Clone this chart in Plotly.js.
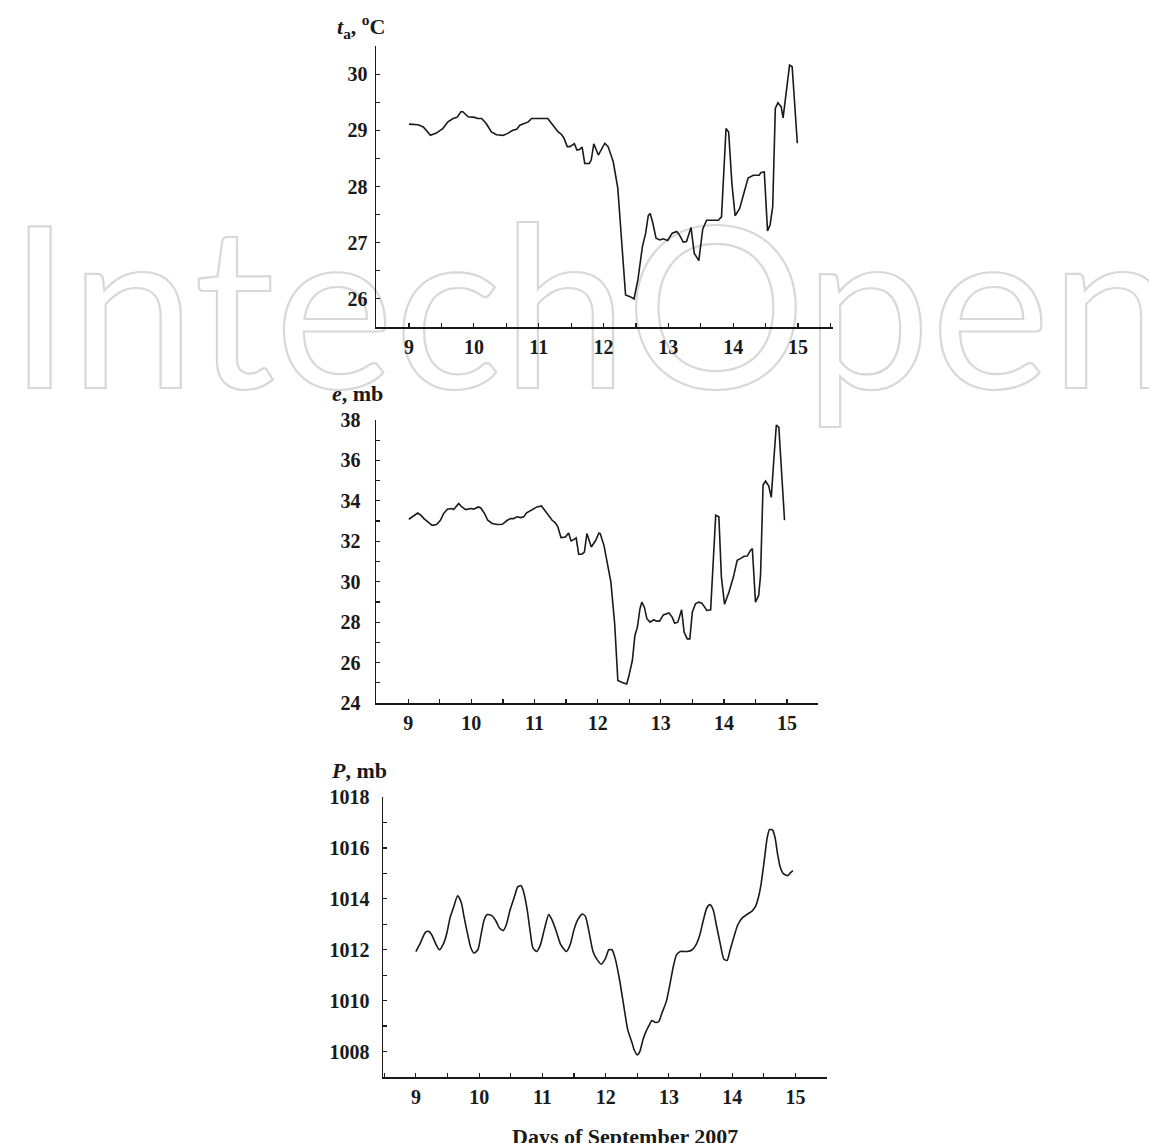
<!DOCTYPE html>
<html>
<head>
<meta charset="utf-8">
<script src="https://cdn.plot.ly/plotly-3.0.1.min.js"></script>
<style>
html,body{margin:0;padding:0;background:#fff;}
#chart{width:1149px;height:1143px;}
</style>
</head>
<body>
<div id="chart"></div>
<script>
// ---- Data ----
const tickDays = [9, 10, 11, 12, 13, 14, 15];

const taDays = [9.0,9.14,9.22,9.33,9.42,9.52,9.6,9.68,9.74,9.8,9.83,9.91,10.01,10.06,10.12,10.19,10.27,10.35,10.45,10.53,10.6,10.66,10.71,10.78,10.84,10.89,11.02,11.14,11.22,11.3,11.35,11.39,11.44,11.48,11.55,11.59,11.63,11.67,11.71,11.78,11.81,11.85,11.92,12.02,12.07,12.15,12.22,12.34,12.41,12.47,12.53,12.6,12.65,12.69,12.72,12.76,12.81,12.87,12.92,12.99,13.06,13.13,13.17,13.23,13.28,13.35,13.4,13.47,13.53,13.59,13.77,13.82,13.89,13.93,13.98,14.03,14.1,14.17,14.23,14.31,14.4,14.43,14.48,14.53,14.57,14.61,14.65,14.69,14.74,14.77,14.81,14.87,14.91,14.99];
const taValues = [29.11,29.1,29.06,28.91,28.95,29.03,29.15,29.21,29.23,29.33,29.33,29.24,29.23,29.21,29.21,29.12,28.97,28.92,28.91,28.95,29.0,29.02,29.09,29.12,29.15,29.21,29.21,29.21,29.09,28.97,28.93,28.86,28.71,28.71,28.76,28.65,28.66,28.7,28.41,28.41,28.47,28.76,28.56,28.77,28.71,28.44,27.97,26.07,26.04,26.0,26.34,26.93,27.17,27.48,27.52,27.35,27.08,27.05,27.07,27.04,27.17,27.2,27.14,27.01,27.02,27.27,26.81,26.68,27.24,27.4,27.4,27.46,29.03,28.97,28.06,27.48,27.61,27.91,28.15,28.2,28.2,28.25,28.26,27.21,27.32,27.64,29.39,29.49,29.42,29.22,29.63,30.16,30.13,28.77];

const eDays = [9.01,9.09,9.15,9.2,9.25,9.33,9.38,9.45,9.51,9.56,9.62,9.69,9.72,9.8,9.85,9.91,9.99,10.04,10.11,10.15,10.21,10.26,10.33,10.41,10.49,10.57,10.62,10.67,10.72,10.78,10.83,10.87,10.96,11.04,11.11,11.17,11.23,11.28,11.33,11.37,11.42,11.49,11.54,11.58,11.62,11.66,11.7,11.75,11.79,11.83,11.9,11.97,12.02,12.04,12.1,12.15,12.21,12.27,12.32,12.39,12.46,12.49,12.55,12.59,12.63,12.67,12.7,12.74,12.78,12.83,12.89,12.93,12.98,13.04,13.13,13.18,13.22,13.27,13.33,13.37,13.42,13.46,13.5,13.55,13.6,13.65,13.73,13.79,13.83,13.87,13.92,13.96,14.01,14.08,14.15,14.21,14.26,14.32,14.37,14.42,14.45,14.5,14.55,14.58,14.62,14.66,14.71,14.75,14.79,14.83,14.87,14.96];
const eValues = [33.09,33.29,33.4,33.29,33.12,32.91,32.79,32.83,33.04,33.37,33.59,33.62,33.57,33.87,33.7,33.57,33.62,33.59,33.7,33.65,33.37,33.04,32.88,32.83,32.84,33.04,33.12,33.12,33.21,33.17,33.21,33.4,33.57,33.7,33.75,33.49,33.26,33.04,32.91,32.71,32.18,32.21,32.41,32.02,32.08,32.17,31.36,31.36,31.47,32.38,31.72,32.05,32.41,32.38,31.8,30.98,29.98,27.92,25.11,25.02,24.94,25.27,26.1,27.34,27.75,28.66,28.99,28.74,28.17,28.0,28.12,28.05,28.05,28.36,28.45,28.25,27.95,28.0,28.61,27.5,27.17,27.17,28.5,28.91,28.99,28.94,28.58,28.61,31.06,33.29,33.21,30.23,28.88,29.49,30.23,31.06,31.14,31.26,31.27,31.55,31.64,28.99,29.32,30.31,34.78,34.98,34.73,34.17,36.02,37.75,37.64,33.04];

const pDays = [9.0,9.07,9.15,9.2,9.25,9.32,9.37,9.44,9.49,9.54,9.6,9.66,9.72,9.76,9.82,9.87,9.92,9.98,10.03,10.08,10.13,10.2,10.27,10.32,10.38,10.43,10.49,10.56,10.61,10.66,10.7,10.76,10.81,10.85,10.91,10.97,11.03,11.1,11.15,11.22,11.29,11.38,11.44,11.5,11.56,11.63,11.68,11.73,11.8,11.86,11.93,12.0,12.05,12.1,12.15,12.22,12.28,12.35,12.42,12.45,12.5,12.54,12.59,12.65,12.7,12.73,12.79,12.84,12.89,12.96,13.02,13.07,13.12,13.18,13.29,13.37,13.43,13.49,13.54,13.6,13.65,13.7,13.75,13.81,13.87,13.92,13.97,14.03,14.09,14.16,14.23,14.31,14.37,14.42,14.46,14.51,14.55,14.59,14.64,14.68,14.72,14.76,14.81,14.88,14.92,14.96];
const pValues = [1011.93,1012.26,1012.68,1012.72,1012.59,1012.2,1012.0,1012.26,1012.66,1013.25,1013.7,1014.12,1013.84,1013.31,1012.59,1012.07,1011.87,1012.0,1012.59,1013.18,1013.38,1013.34,1013.11,1012.85,1012.75,1012.98,1013.57,1014.1,1014.47,1014.52,1014.3,1013.57,1012.66,1012.07,1011.93,1012.2,1012.79,1013.38,1013.18,1012.72,1012.2,1011.93,1012.2,1012.79,1013.18,1013.4,1013.31,1012.79,1011.93,1011.63,1011.43,1011.67,1012.0,1012.0,1011.67,1010.82,1009.9,1008.85,1008.33,1008.07,1007.87,1008.0,1008.46,1008.85,1009.09,1009.22,1009.14,1009.18,1009.51,1009.97,1010.69,1011.34,1011.8,1011.93,1011.93,1012.0,1012.2,1012.59,1013.11,1013.64,1013.77,1013.57,1012.98,1012.26,1011.63,1011.58,1012.0,1012.52,1012.98,1013.25,1013.38,1013.51,1013.7,1014.1,1014.62,1015.54,1016.33,1016.72,1016.7,1016.39,1015.74,1015.25,1014.99,1014.91,1015.02,1015.11];

const titles = ['<b><i>t</i><sub>a</sub>, <sup>o</sup>C</b>', '<b><i>e</i>, mb</b>', '<b><i>P</i>, mb</b>'];
const xLabel = '<b>Days of September 2007</b>';
const watermark = 'IntechOpen';

// ---- Layout helpers ----
const W = 1149, H = 1143;
const fx = v => v / W;
const fy = v => 1 - v / H;
const serif = 'Liberation Serif, Times New Roman, serif';
const ink = '#1a1a1a';
const tickFont = {family: serif, size: 20, color: ink, weight: 'bold'};

function xAxis(left, right, range, anchor) {
  return {
    domain: [fx(left), fx(right)], anchor: anchor, range: range,
    showline: true, linecolor: ink, linewidth: 1.5,
    showgrid: false, zeroline: false,
    tickvals: tickDays, ticks: 'inside', ticklen: 4, tickwidth: 1.2, tickcolor: ink,
    minor: {dtick: 0.5, tick0: 9, ticks: 'inside', ticklen: 4, tickwidth: 1.2, tickcolor: ink, showgrid: false},
    tickfont: tickFont, ticklabelstandoff: 1, fixedrange: true
  };
}
function yAxis(top, bottom, range, dtick, mdtick, anchor, standoff) {
  return {
    domain: [fy(bottom), fy(top)], anchor: anchor, range: range,
    showline: true, linecolor: ink, linewidth: 1.5,
    showgrid: false, zeroline: false,
    dtick: dtick, tick0: 0, ticks: 'inside', ticklen: 4, tickwidth: 1.2, tickcolor: ink,
    minor: {dtick: mdtick, ticks: 'inside', ticklen: 4, tickwidth: 1.2, tickcolor: ink, showgrid: false},
    tickfont: tickFont, ticklabelstandoff: standoff, fixedrange: true
  };
}

const line = {color: ink, width: 1.6};
const traces = [
  {x: taDays, y: taValues, xaxis: 'x', yaxis: 'y', mode: 'lines', line: line, hoverinfo: 'skip'},
  {x: eDays, y: eValues, xaxis: 'x2', yaxis: 'y2', mode: 'lines', line: line, hoverinfo: 'skip'},
  {x: pDays, y: pValues, xaxis: 'x3', yaxis: 'y3', mode: 'lines', line: Object.assign({shape: 'spline', smoothing: 0.6}, line), hoverinfo: 'skip'}
];

const titleFont = {family: serif, size: 22, color: ink};
const layout = {
  width: W, height: H,
  margin: {l: 0, r: 0, t: 0, b: 0},
  paper_bgcolor: '#ffffff', plot_bgcolor: 'rgba(0,0,0,0)',
  showlegend: false,
  xaxis: xAxis(376, 833, [8.49, 15.54], 'y'),
  yaxis: yAxis(46, 327, [25.5, 30.5], 1, 0.5, 'x', 3),
  xaxis2: xAxis(376, 818, [8.49, 15.49], 'y2'),
  yaxis2: yAxis(420, 703, [24, 38], 2, 1, 'x2', 10),
  xaxis3: xAxis(383, 827, [8.48, 15.5], 'y3'),
  yaxis3: yAxis(797, 1077, [1007, 1018], 2, 1, 'x3', 8),
  annotations: [
    {text: watermark, xref: 'paper', yref: 'paper', x: fx(592), y: fy(300), xanchor: 'center', yanchor: 'middle',
     showarrow: false, font: {family: 'Lato, Open Sans, sans-serif', size: 226, color: 'rgb(254,254,254)', weight: 400}},
    {text: titles[0], xref: 'paper', yref: 'paper', x: fx(387), y: fy(26), xanchor: 'right', yanchor: 'middle',
     showarrow: false, font: titleFont},
    {text: titles[1], xref: 'paper', yref: 'paper', x: fx(385), y: fy(393), xanchor: 'right', yanchor: 'middle',
     showarrow: false, font: titleFont},
    {text: titles[2], xref: 'paper', yref: 'paper', x: fx(389), y: fy(771), xanchor: 'right', yanchor: 'middle',
     showarrow: false, font: titleFont},
    {text: xLabel, xref: 'paper', yref: 'paper', x: fx(625), y: fy(1136), xanchor: 'center', yanchor: 'middle',
     showarrow: false, font: titleFont}
  ]
};

Plotly.newPlot('chart', traces, layout, {staticPlot: true, displayModeBar: false}).then(function () {
  const svgs = document.querySelectorAll('#chart .main-svg');
  const base = svgs[0];
  const cart = base.querySelector('.cartesianlayer');
  document.querySelectorAll('#chart .annotation-text').forEach(function (t) {
    if (t.textContent === watermark) {
      t.style.stroke = '#d8d8d8';
      t.style.strokeWidth = '2.2px';
      t.style.fill = '#ffffff';
      const g = t.closest('.annotation');
      if (g && cart) base.insertBefore(g, cart);
    }
  });
});
</script>
</body>
</html>
